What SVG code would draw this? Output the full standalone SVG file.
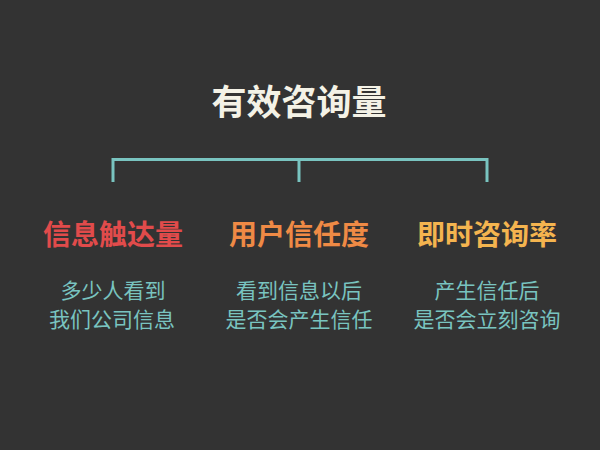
<svg xmlns="http://www.w3.org/2000/svg" width="600" height="450" viewBox="0 0 600 450">
<style>
text{font-family:"Noto Sans CJK SC","Noto Sans",sans-serif;text-anchor:middle}
.title{font-size:35px;font-weight:bold;fill:#f4f2e6}
.head{font-size:28px;font-weight:bold}
.sub{font-size:21px;fill:#79c4c0}
.conn{fill:none;stroke:#79c4c0;stroke-width:3}
</style>
<rect width="600" height="450" fill="#333333"/>
<g id="root"><text class="title" x="299" y="115">有效咨询量</text></g>
<g id="connectors">
<path class="conn" d="M113 182 V159.5 H487 V182 M299 159.5 V182"/>
</g>
<g id="node1">
<text class="head" x="113" y="245" fill="#e14b4b">信息触达量</text>
<text class="sub" x="113" y="298">多少人看到</text>
<text class="sub" x="112" y="327">我们公司信息</text>
</g>
<g id="node2">
<text class="head" x="299" y="245" fill="#ef8a45">用户信任度</text>
<text class="sub" x="299" y="298">看到信息以后</text>
<text class="sub" x="299" y="327">是否会产生信任</text>
</g>
<g id="node3">
<text class="head" x="487" y="245" fill="#f4b44f">即时咨询率</text>
<text class="sub" x="487" y="298">产生信任后</text>
<text class="sub" x="487" y="327">是否会立刻咨询</text>
</g>
</svg>
